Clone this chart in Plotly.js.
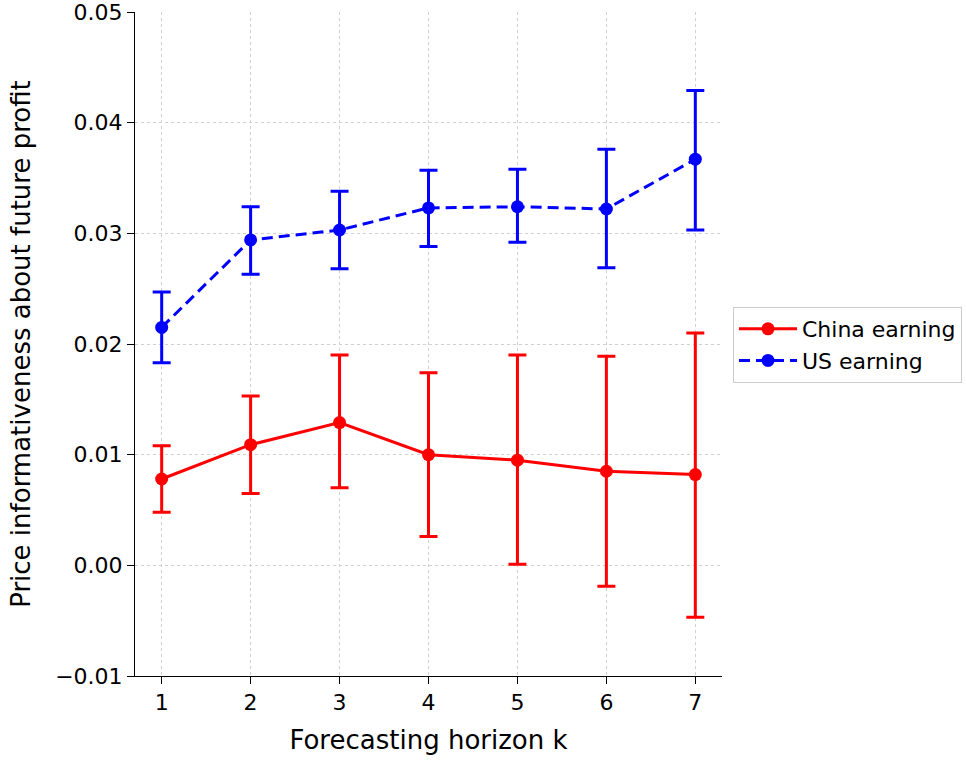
<!DOCTYPE html>
<html>
<head>
<meta charset="utf-8">
<script src="https://cdn.plot.ly/plotly-3.0.1.min.js"></script>
<style>html,body{margin:0;padding:0;background:#fff;}</style>
</head>
<body>
<div id="chart" style="width:966px;height:761px;"></div>
<script>
const horizons = [1, 2, 3, 4, 5, 6, 7];
const chinaValues = [0.0078, 0.0109, 0.0129, 0.0100, 0.0095, 0.0085, 0.0082];
const chinaUpper  = [0.0108, 0.0153, 0.0190, 0.0174, 0.0190, 0.0189, 0.0210];
const chinaLower  = [0.0048, 0.0065, 0.0070, 0.0026, 0.0001, -0.0019, -0.0047];
const usValues = [0.0215, 0.0294, 0.0303, 0.0323, 0.0324, 0.0322, 0.0367];
const usUpper  = [0.0247, 0.0324, 0.0338, 0.0357, 0.0358, 0.0376, 0.0429];
const usLower  = [0.0183, 0.0263, 0.0268, 0.0288, 0.0292, 0.0269, 0.0303];
const yTicks = [-0.01, 0.00, 0.01, 0.02, 0.03, 0.04, 0.05];

function plus(v, u) { return v.map((x, i) => u[i] - x); }
function minus(v, l) { return v.map((x, i) => x - l[i]); }

const traces = [
  {
    x: horizons, y: chinaValues, name: 'China earning', type: 'scatter', mode: 'lines+markers',
    line: {color: '#ff0000', width: 3}, marker: {color: '#ff0000', size: 13},
    error_y: {type: 'data', symmetric: false, array: plus(chinaValues, chinaUpper), arrayminus: minus(chinaValues, chinaLower), color: '#ff0000', thickness: 3, width: 9}
  },
  {
    x: horizons, y: usValues, name: 'US earning', type: 'scatter', mode: 'lines+markers',
    line: {color: '#0000ff', width: 3, dash: '11px,6px'}, marker: {color: '#0000ff', size: 13},
    error_y: {type: 'data', symmetric: false, array: plus(usValues, usUpper), arrayminus: minus(usValues, usLower), color: '#0000ff', thickness: 3, width: 9}
  }
];

const layout = {
  width: 966, height: 761,
  margin: {l: 135, r: 244, t: 12, b: 85, autoexpand: false},
  paper_bgcolor: '#fff', plot_bgcolor: '#fff',
  font: {family: 'DejaVu Sans, sans-serif', size: 22, color: '#000'},
  showlegend: true,
  legend: {xref: 'container', yref: 'container', x: 0.7588, xanchor: 'left', y: 0.5966, yanchor: 'top', bordercolor: '#cccccc', borderwidth: 1, font: {size: 22}, bgcolor: '#fff', tracegroupgap: 0, itemwidth: 58},
  xaxis: {
    range: [0.7, 7.3], tickvals: horizons, ticktext: horizons.map(String),
    showline: true, linecolor: '#000', linewidth: 1, ticks: 'outside', ticklen: 7, tickcolor: '#000',
    showgrid: true, gridcolor: '#d0d0d0', griddash: '3px,3px', gridwidth: 1, zeroline: false, mirror: false,
    ticklabeloverflow: 'allow', tickfont: {size: 22},
    title: {text: 'Forecasting horizon k', font: {size: 26}, standoff: 16}
  },
  yaxis: {
    range: [-0.01, 0.05], tickvals: yTicks, ticktext: yTicks.map(v => v.toFixed(2).replace('-', '\u2212')),
    showline: true, linecolor: '#000', linewidth: 1, ticks: 'outside', ticklen: 7, tickcolor: '#000',
    showgrid: true, gridcolor: '#d0d0d0', griddash: '3px,3px', gridwidth: 1, zeroline: false, mirror: false,
    ticklabeloverflow: 'allow', tickfont: {size: 22},
    title: {text: 'Price informativeness about future profit', font: {size: 26}, standoff: 17}
  }
};

Plotly.newPlot('chart', traces, layout, {displayModeBar: false, staticPlot: true});
</script>
</body>
</html>
